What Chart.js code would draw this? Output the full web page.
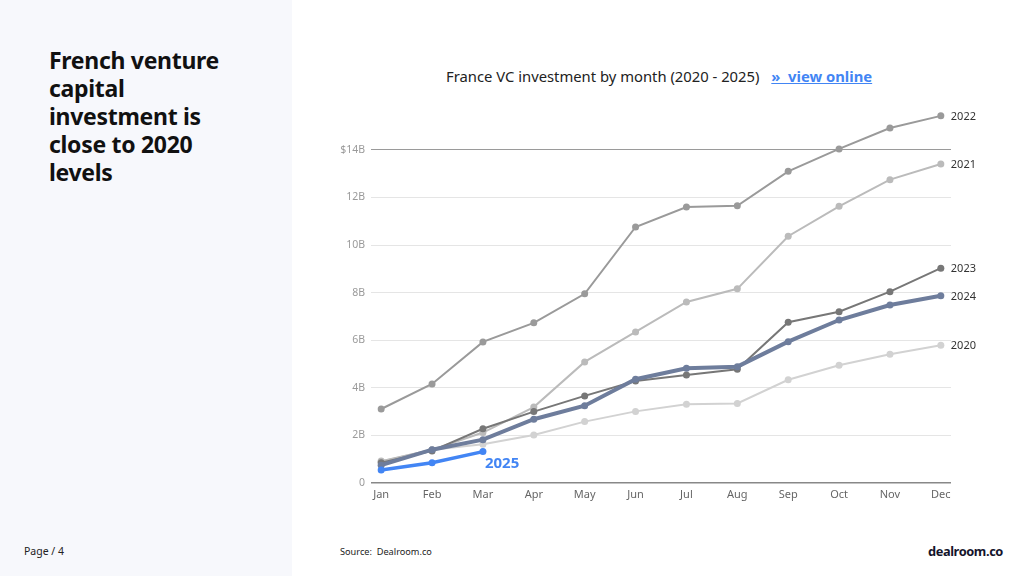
<!DOCTYPE html>
<html>
<head>
<meta charset="utf-8">
<script src="https://cdn.jsdelivr.net/npm/chart.js@4"></script>
<style>
  body { margin: 0; width: 1024px; height: 576px; background: #fff; font-family: "Noto Sans", sans-serif; position: relative; overflow: hidden; }
  #side { position: absolute; left: 0; top: 0; width: 292px; height: 576px; background: #f7f8fc; }
  #heading { position: absolute; left: 49px; top: 46px; width: 200px; font-size: 23px; line-height: 28px; font-weight: 700; color: #111; letter-spacing: -0.3px; }
  #page { position: absolute; left: 24px; top: 544px; font-size: 10.5px; color: #222; }
  #title { position: absolute; left: 446px; top: 66px; font-size: 14.8px; color: #222; white-space: nowrap; }
  #title a { color: #4285f4; font-weight: 700; text-decoration: underline; margin-left: 8px; }
  #source { position: absolute; left: 340px; top: 545px; font-size: 9.2px; color: #222; }
  #logo { position: absolute; left: 928px; top: 542px; font-size: 12.8px; font-weight: 700; color: #14142b; letter-spacing: -0.4px; }
  #wrap { position: absolute; left: 310px; top: 90px; width: 700px; height: 420px; }
</style>
</head>
<body>
<div id="side"></div>
<div id="heading">French venture capital investment is close to 2020 levels</div>
<div id="page">Page / 4</div>
<div id="title">France VC investment by month (2020 - 2025) <a>»&nbsp; view online</a></div>
<div id="source">Source:&nbsp; Dealroom.co</div>
<div id="logo">dealroom.co</div>
<div id="wrap"><canvas id="myChart"></canvas></div>
<script>
// values in $B, cumulative by month
var months = ['Jan','Feb','Mar','Apr','May','Jun','Jul','Aug','Sep','Oct','Nov','Dec'];
var yearNames = ['2025','2024','2023','2022','2021','2020'];
var y2025 = [0.55, 0.85, 1.32];
var y2024 = [0.75, 1.4, 1.82, 2.68, 3.25, 4.36, 4.82, 4.89, 5.94, 6.85, 7.48, 7.87];
var y2023 = [0.85, 1.35, 2.28, 3.0, 3.66, 4.29, 4.54, 4.78, 6.76, 7.2, 8.04, 9.03];
var y2022 = [3.11, 4.16, 5.93, 6.73, 7.95, 10.76, 11.6, 11.65, 13.1, 14.04, 14.92, 15.43];
var y2021 = [0.92, 1.4, 2.12, 3.19, 5.09, 6.35, 7.61, 8.16, 10.37, 11.63, 12.75, 13.41];
var y2020 = [0.9, 1.4, 1.63, 2.02, 2.58, 3.01, 3.31, 3.34, 4.34, 4.95, 5.41, 5.79];
var yTicks = ['0','2B','4B','6B','8B','10B','12B','$14B'];

var colors = ['#4285f4', '#6e7d9c', '#777777', '#9a9a9a', '#bbbbbb', '#d2d2d2'];
var widths = [3.5, 4, 2, 2, 2, 2];
var series = [y2025, y2024, y2023, y2022, y2021, y2020];

function toPoints(arr) {
    var pts = [];
    for (var i = 0; i < arr.length; i++) {
        pts.push({x: i, y: arr[i]});
    }
    return pts;
}

var datasets = [];
for (var i = 0; i < series.length; i++) {
    datasets.push({
        label: yearNames[i],
        data: toPoints(series[i]),
        borderColor: colors[i],
        backgroundColor: colors[i],
        borderWidth: widths[i],
        pointRadius: 3.5,
        pointHoverRadius: 3.5,
        pointBorderWidth: 0,
        tension: 0
    });
}

// year labels next to the last point of each line
var endLabels = {
    id: 'endLabels',
    afterDatasetsDraw: function(chart) {
        var ctx = chart.ctx;
        var xs = chart.scales.x, ys = chart.scales.y;
        ctx.save();
        chart.data.datasets.forEach(function(ds, i) {
            var last = ds.data[ds.data.length - 1];
            var px = xs.getPixelForValue(last.x);
            var py = ys.getPixelForValue(last.y);
            ctx.textBaseline = 'middle';
            ctx.textAlign = 'left';
            if (ds.label == '2025') {
                ctx.font = 'bold 15px "Noto Sans"';
                ctx.fillStyle = '#4285f4';
                ctx.fillText(ds.label, px + 2, py + 12);
            } else {
                ctx.font = '11px "Noto Sans"';
                ctx.fillStyle = '#333';
                ctx.fillText(ds.label, px + 10, py + 1);
            }
        });
        ctx.restore();
    }
};

var ctxL = document.getElementById('myChart').getContext('2d');
var myLineChart = new Chart(ctxL, {
    type: 'line',
    data: { datasets: datasets },
    options: {
        responsive: true,
        maintainAspectRatio: false,
        animation: false,
        layout: { padding: { top: 8.5, right: 59, left: 0, bottom: 0 } },
        plugins: { legend: { display: false }, tooltip: { enabled: false } },
        scales: {
            x: {
                type: 'linear',
                min: -0.2,
                max: 11.2,
                afterBuildTicks: function(scale) {
                    scale.ticks = months.map(function(m, i) { return {value: i}; });
                },
                afterFit: function(scale) { scale.height = 27; },
                ticks: {
                    autoSkip: false,
                    maxRotation: 0,
                    color: '#666',
                    font: { family: 'Noto Sans', size: 11 },
                    padding: 5,
                    callback: function(v) { return months[v]; }
                },
                grid: { display: false, drawTicks: false },
                border: { display: false }
            },
            y: {
                min: 0,
                max: 16,
                afterBuildTicks: function(scale) {
                    scale.ticks = yTicks.map(function(t, i) { return {value: i * 2}; });
                },
                afterFit: function(scale) { scale.width = 61; },
                ticks: {
                    color: '#9a9a9a',
                    font: { family: 'Noto Sans', size: 10.5 },
                    padding: 6,
                    callback: function(v) { return yTicks[v / 2]; }
                },
                grid: {
                    drawTicks: false,
                    lineWidth: function(c) { return c.tick && c.tick.value == 0 ? 1.5 : 1; },
                    color: function(c) {
                        if (!c.tick) return '#e5e5e5';
                        if (c.tick.value == 0) return '#888';
                        if (c.tick.value == 14) return '#9a9a9a';
                        return '#e5e5e5';
                    }
                },
                border: { display: false }
            }
        }
    },
    plugins: [endLabels]
});
</script>
</body>
</html>
